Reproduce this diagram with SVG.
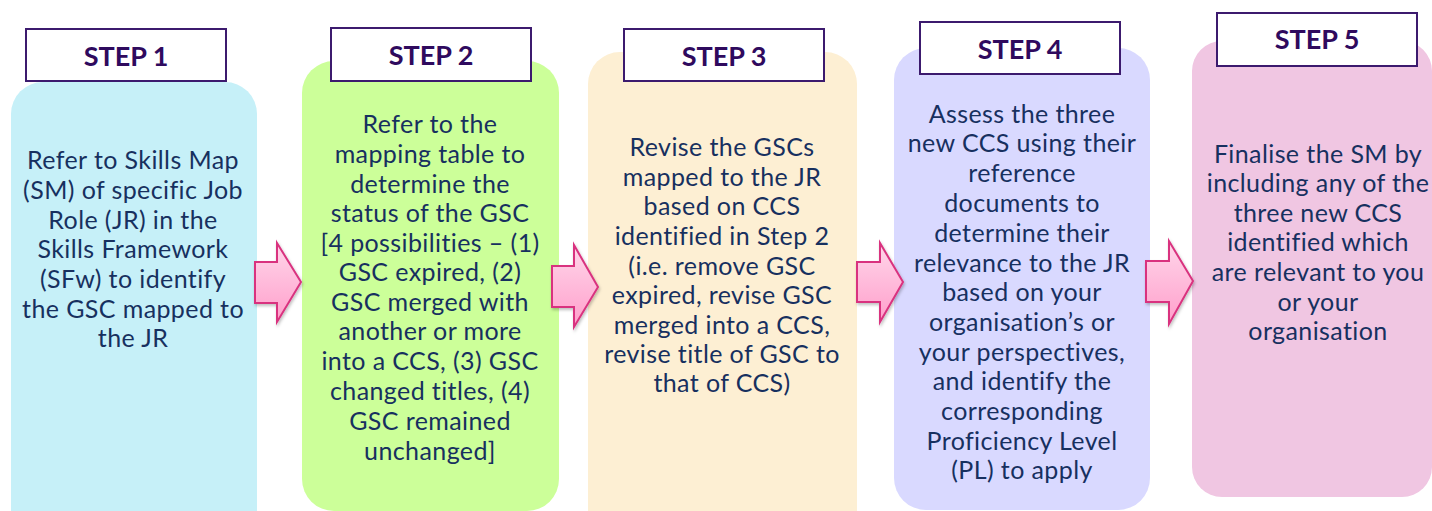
<svg xmlns="http://www.w3.org/2000/svg" width="1432" height="511" viewBox="0 0 1432 511">
<style>
.t{font-family:Lato,"Liberation Sans",sans-serif;font-size:25px;letter-spacing:0.4px;fill:#17305F;text-anchor:middle}
.h{font-family:Lato,"Liberation Sans",sans-serif;font-size:27px;font-weight:bold;fill:#2F0A5E;text-anchor:middle}
.hb{fill:#FFFFFF;stroke:#3C1A6E;stroke-width:2}
.arr{fill:url(#pg);stroke:#D9337F;stroke-width:2;stroke-linejoin:miter}
</style>
<defs>
<linearGradient id="pg" x1="0" y1="0" x2="0" y2="1">
<stop offset="0" stop-color="#FFD6EA"/>
<stop offset="1" stop-color="#FF9FCB"/>
</linearGradient>
<filter id="sh" x="-20%" y="-20%" width="140%" height="140%">
<feDropShadow dx="1" dy="2" stdDeviation="1.5" flood-color="#000" flood-opacity="0.25"/>
</filter>
</defs>
<rect width="1432" height="511" fill="#FFFFFF"/>

<g id="step1">
<rect x="11" y="82" width="246" height="460" rx="32" fill="#C6F0F8"/>
<rect class="hb" x="26" y="29" width="200" height="52"/>
<text class="h" x="126" y="66">STEP 1</text>
<text class="t" x="133" y="169">Refer to Skills Map</text>
<text class="t" x="133" y="199">(SM) of specific Job</text>
<text class="t" x="133" y="229">Role (JR) in the</text>
<text class="t" x="133" y="258">Skills Framework</text>
<text class="t" x="133" y="288">(SFw) to identify</text>
<text class="t" x="133" y="318">the GSC mapped to</text>
<text class="t" x="133" y="347">the JR</text>
</g>

<g id="step2">
<rect x="302" y="61" width="257" height="450" rx="32" fill="#CCFF99"/>
<rect class="hb" x="331" y="28" width="200" height="53"/>
<text class="h" x="431" y="65">STEP 2</text>
<text class="t" x="430" y="133">Refer to the</text>
<text class="t" x="430" y="163">mapping table to</text>
<text class="t" x="430" y="193">determine the</text>
<text class="t" x="430" y="222">status of the GSC</text>
<text class="t" x="430" y="252">[4 possibilities – (1)</text>
<text class="t" x="430" y="281">GSC expired, (2)</text>
<text class="t" x="430" y="311">GSC merged with</text>
<text class="t" x="430" y="340">another or more</text>
<text class="t" x="430" y="370">into a CCS, (3) GSC</text>
<text class="t" x="430" y="400">changed titles, (4)</text>
<text class="t" x="430" y="430">GSC remained</text>
<text class="t" x="430" y="460">unchanged]</text>
</g>

<g id="step3">
<rect x="588" y="52" width="269" height="490" rx="32" fill="#FDEFD3"/>
<rect class="hb" x="624" y="29" width="200" height="52"/>
<text class="h" x="724" y="66">STEP 3</text>
<text class="t" x="722" y="156">Revise the GSCs</text>
<text class="t" x="722" y="186">mapped to the JR</text>
<text class="t" x="722" y="215">based on CCS</text>
<text class="t" x="722" y="245">identified in Step 2</text>
<text class="t" x="722" y="275">(i.e. remove GSC</text>
<text class="t" x="722" y="304">expired, revise GSC</text>
<text class="t" x="722" y="334">merged into a CCS,</text>
<text class="t" x="722" y="363">revise title of GSC to</text>
<text class="t" x="722" y="392">that of CCS)</text>
</g>

<g id="step4">
<rect x="894" y="48" width="256" height="462" rx="32" fill="#D9D9FF"/>
<rect class="hb" x="920" y="22" width="200" height="52"/>
<text class="h" x="1020" y="59">STEP 4</text>
<text class="t" x="1022" y="123">Assess the three</text>
<text class="t" x="1022" y="152">new CCS using their</text>
<text class="t" x="1022" y="182">reference</text>
<text class="t" x="1022" y="212">documents to</text>
<text class="t" x="1022" y="242">determine their</text>
<text class="t" x="1022" y="272">relevance to the JR</text>
<text class="t" x="1022" y="301">based on your</text>
<text class="t" x="1022" y="331">organisation’s or</text>
<text class="t" x="1022" y="361">your perspectives,</text>
<text class="t" x="1022" y="390">and identify the</text>
<text class="t" x="1022" y="420">corresponding</text>
<text class="t" x="1022" y="450">Proficiency Level</text>
<text class="t" x="1022" y="479">(PL) to apply</text>
</g>

<g id="step5">
<rect x="1192" y="41" width="240" height="456" rx="30" fill="#F0C6E2"/>
<rect class="hb" x="1217" y="13" width="200" height="53"/>
<text class="h" x="1317" y="49">STEP 5</text>
<text class="t" x="1318" y="163">Finalise the SM by</text>
<text class="t" x="1318" y="192">including any of the</text>
<text class="t" x="1318" y="222">three new CCS</text>
<text class="t" x="1318" y="251">identified which</text>
<text class="t" x="1318" y="281">are relevant to you</text>
<text class="t" x="1318" y="311">or your</text>
<text class="t" x="1318" y="340">organisation</text>
</g>

<g id="connectors" filter="url(#sh)">
<path class="arr" d="M255,262 L277,262 L277,243 L301,282 L277,322 L277,303 L255,303 Z"/>
<path class="arr" d="M552,266 L574,266 L574,245 L598,287 L574,327 L574,307 L552,307 Z"/>
<path class="arr" d="M857,262 L880,262 L880,243 L903,282 L880,322 L880,302 L857,302 Z"/>
<path class="arr" d="M1146,261 L1169,261 L1169,241 L1193,281 L1169,324 L1169,302 L1146,302 Z"/>
</g>
</svg>
